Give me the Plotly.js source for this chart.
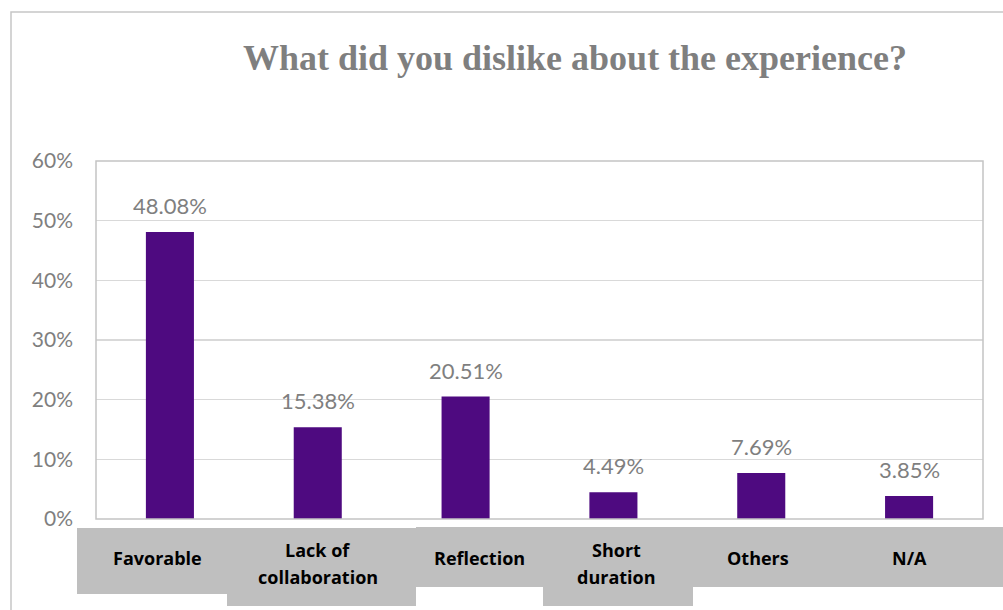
<!DOCTYPE html>
<html>
<head>
<meta charset="utf-8">
<script src="https://cdn.plot.ly/plotly-3.0.1.min.js"></script>
<style>html,body{margin:0;padding:0;background:#fff;}#chart{width:1003px;height:610px;}</style>
</head>
<body>
<div id="chart"></div>
<script>
const categories = ["Favorable", "Lack of collaboration", "Reflection", "Short duration", "Others", "N/A"];
const labelLines = [["Favorable"], ["Lack of", "collaboration"], ["Reflection"], ["Short", "duration"], ["Others"], ["N/A"]];
const values = [0.4808, 0.1538, 0.2051, 0.0449, 0.0769, 0.0385];
const yTicks = [0, 0.1, 0.2, 0.3, 0.4, 0.5, 0.6];
const yTickText = ["0%", "10%", "20%", "30%", "40%", "50%", "60%"];

const W = 1003, H = 610;
const M = {l: 96, r: 20, t: 161, b: 91};
const px = x => (x - M.l) / (W - M.l - M.r);
const py = y => (H - M.b - y) / (H - M.t - M.b);

// label boxes (pixel extents)
const boxes = [
  [77, 227, 528, 594],
  [227, 416, 528, 606],
  [416, 543, 527, 587],
  [543, 693, 527, 606],
  [693, 1010, 527, 587]
];
const shapes = boxes.map(b => ({
  type: 'rect', xref: 'paper', yref: 'paper', layer: 'below',
  x0: px(b[0]), x1: px(b[1]), y0: py(b[3]), y1: py(b[2]),
  fillcolor: '#bfbfbf', line: {width: 0}
}));
// outer chart border
shapes.push({type: 'rect', xref: 'paper', yref: 'paper', layer: 'below',
  x0: px(11), x1: px(1010), y0: py(620), y1: py(12),
  line: {color: '#c6c6c6', width: 1.5}, fillcolor: 'rgba(0,0,0,0)'});
// plot area border
shapes.push({type: 'rect', xref: 'paper', yref: 'paper', layer: 'above',
  x0: 0, x1: 1, y0: 0, y1: 1, line: {color: '#c4c4c4', width: 1.5}});

const labelShift = [-12, 0, 14, 3, -3, 0];
const annotations = [];
categories.forEach((c, i) => {
  const lines = labelLines[i];
  const center = lines.length > 1 ? 563.5 : 558;
  lines.forEach((ln, k) => {
    const yc = center + (k - (lines.length - 1) / 2) * 27;
    annotations.push({
      x: c, xref: 'x', yref: 'paper', y: py(yc), yanchor: 'middle', xanchor: 'center',
      xshift: labelShift[i], text: '<b>' + ln + '</b>', showarrow: false,
      font: {family: '"Open Sans", sans-serif', size: 18, color: '#000000'}
    });
  });
  // value label above bar
  annotations.push({
    x: c, y: values[i], xref: 'x', yref: 'y', yanchor: 'bottom', xanchor: 'center',
    yshift: 11, showarrow: false, text: (values[i] * 100).toFixed(2) + '%',
    font: {family: 'Lato, sans-serif', size: 22, color: '#7f7f7f'}
  });
});

const trace = {
  type: 'bar', x: categories, y: values,
  marker: {color: '#4e0a80', line: {width: 0}},
  width: 0.325,
  hoverinfo: 'skip'
};

const layout = {
  width: W, height: H, margin: M,
  paper_bgcolor: '#ffffff', plot_bgcolor: '#ffffff',
  showlegend: false,
  title: {text: '<b>What did you dislike about the experience?</b>', x: px(575), xanchor: 'center',
    y: 1 - 57 / H, yanchor: 'middle', yref: 'container', xref: 'paper',
    font: {family: '"Liberation Serif", serif', size: 36, color: '#7f7f7f'}},
  xaxis: {type: 'category', range: [-0.5, 5.5], showticklabels: false, showgrid: false,
    zeroline: false, showline: false, ticks: ''},
  yaxis: {range: [0, 0.6], tickvals: yTicks, ticktext: yTickText, showgrid: true,
    gridcolor: '#d9d9d9', gridwidth: 1.5, zeroline: false, showline: false,
    ticks: '', ticklabelstandoff: 22,
    tickfont: {family: 'Lato, sans-serif', size: 21, color: '#7f7f7f'}},
  shapes: shapes, annotations: annotations, bargap: 0.675
};

Plotly.newPlot('chart', [trace], layout, {displayModeBar: false, staticPlot: true});
</script>
</body>
</html>
